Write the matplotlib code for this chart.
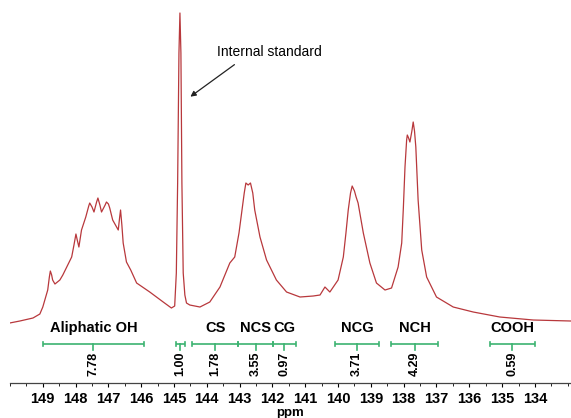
import numpy as np
import matplotlib
matplotlib.use('agg')
import matplotlib.pyplot as plt
from matplotlib.ticker import MultipleLocator

plt.rcParams['font.family'] = ['Liberation Sans', 'DejaVu Sans']

#spectrum (ppm, intensity a.u.)
ppm = [150.01, 149.70, 149.30, 149.09, 149.00, 148.85, 148.80, 148.77, 148.73, 148.70,
       148.63, 148.48, 148.39, 148.24, 148.12, 148.05, 147.99, 147.95, 147.90, 147.82,
       147.69, 147.60, 147.57, 147.50, 147.44, 147.36, 147.32, 147.26, 147.21, 147.10,
       147.06, 147.00, 146.96, 146.87, 146.70, 146.66, 146.63, 146.59, 146.55, 146.45,
       146.32, 146.14, 145.74, 145.33, 145.08, 144.98, 144.93, 144.89, 144.85, 144.82,
       144.79, 144.76, 144.72, 144.67, 144.62, 144.52, 144.21, 143.91, 143.60, 143.30,
       143.15, 143.02, 142.94, 142.86, 142.81, 142.74, 142.67, 142.60, 142.54, 142.38,
       142.18, 141.88, 141.57, 141.16, 140.76, 140.55, 140.40, 140.25, 140.00, 139.84,
       139.76, 139.69, 139.62, 139.57, 139.50, 139.45, 139.39, 139.23, 139.03, 138.83,
       138.57, 138.37, 138.17, 138.06, 138.01, 137.96, 137.91, 137.89, 137.85, 137.81,
       137.75, 137.71, 137.67, 137.63, 137.56, 137.45, 137.30, 137.00, 136.49, 135.88,
       135.07, 134.05, 132.90]
intensity = [60, 62, 65, 69, 76, 93, 106, 112, 108, 103,
             99, 103, 108, 118, 126, 138, 149, 143, 136, 153,
             166, 177, 180, 176, 171, 181, 185, 178, 171, 178,
             181, 179, 175, 163, 153, 165, 173, 158, 140, 121,
             113, 100, 91, 81, 75, 77, 110, 200, 330, 370,
             330, 200, 110, 88, 80, 78, 76, 81, 96, 120,
             126, 150, 170, 190, 200, 198, 200, 190, 173, 146,
             123, 103, 91, 86, 87, 88, 96, 91, 103, 126,
             150, 173, 190, 197, 192, 186, 180, 150, 120, 100,
             93, 95, 116, 140, 175, 216, 243, 248, 245, 241,
             252, 261, 252, 236, 183, 133, 106, 86, 76, 71,
             66, 63, 62]

#integration regions
region_names = ['Aliphatic OH', '', 'CS', 'NCS', 'CG', 'NCG', 'NCH', 'COOH']
region_start = [149.00, 144.95, 144.44, 143.05, 141.98, 140.08, 138.39, 135.37]
region_end = [145.92, 144.67, 143.05, 141.98, 141.29, 138.75, 136.95, 134.00]
region_values = ['7.78', '1.00', '1.78', '3.55', '0.97', '3.71', '4.29', '0.59']

GREEN = '#3cb371'
RED = '#b8383c'

fig = plt.figure(figsize=(5.71, 4.18), dpi=100)
ax = fig.add_axes([0.0175, 0.0837, 0.9825, 0.9163])

ax.plot(ppm, intensity, color=RED, lw=0.9)

#integration bars, names and values
bar_y = 38.7
for name, s, e, v in zip(region_names, region_start, region_end, region_values):
	mid = (s + e) / 2
	ax.plot([s, e], [bar_y, bar_y], color=GREEN, lw=1.2, solid_capstyle='butt')
	ax.plot([s, s], [bar_y - 2, bar_y + 2], color=GREEN, lw=1.2)
	ax.plot([e, e], [bar_y - 2, bar_y + 2], color=GREEN, lw=1.2)
	ax.plot([mid, mid], [bar_y, bar_y - 6], color=GREEN, lw=1.2)
	ax.text(mid, 19.5, v, rotation=90, ha='center', va='center', fontsize=9, fontweight='bold')
	if name:
		ax.text(mid, 55, name, ha='center', va='center', fontsize=10.5, fontweight='bold')

#internal standard annotation
ax.annotate('', xy=(144.57, 284.7), xytext=(143.09, 320),
	arrowprops=dict(arrowstyle='-|>', color='#222222', lw=0.9, mutation_scale=8))
ax.text(143.70, 331, 'Internal standard', ha='left', va='center', fontsize=10)

ax.set_xlim(150.0, 132.9)
ax.set_ylim(0, 383)
ax.xaxis.set_minor_locator(MultipleLocator(0.5))
ax.set_xticks(range(134, 150))
ax.tick_params(axis='x', which='major', direction='out', length=3, width=0.8, pad=3.5, labelsize=10.5)
ax.tick_params(axis='x', which='minor', direction='out', length=2, width=0.6)
for lab in ax.get_xticklabels():
	lab.set_fontweight('bold')
ax.set_yticks([])
ax.set_xlabel('ppm', fontsize=9.5, fontweight='bold', labelpad=0.5)
for side in ['top', 'left', 'right']:
	ax.spines[side].set_visible(False)
ax.spines['bottom'].set_color('#444444')
ax.spines['bottom'].set_linewidth(0.9)
ax.patch.set_alpha(0)

plt.savefig('out.png', dpi=100)
